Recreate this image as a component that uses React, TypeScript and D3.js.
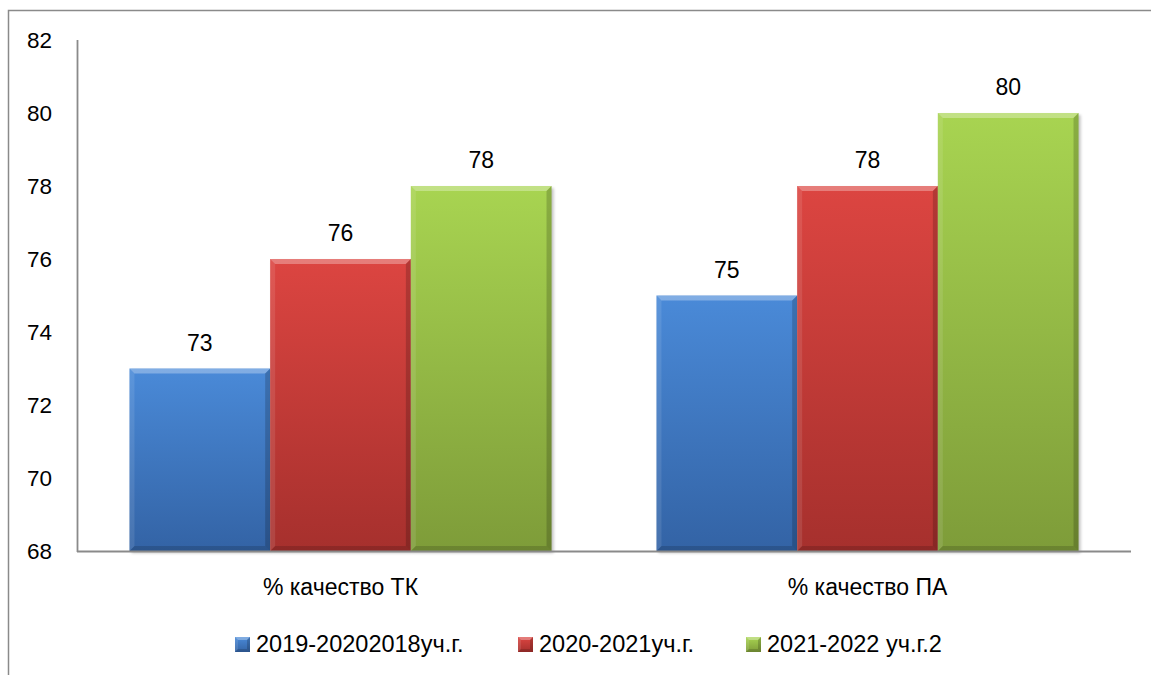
import React from "react";
import * as d3 from "d3";

const categories = ["% качество ТК", "% качество ПА"];
const seriesNames = ["2019-20202018уч.г.", "2020-2021уч.г.", "2021-2022 уч.г.2"];
const series1 = [73, 75];
const series2 = [76, 78];
const series3 = [78, 80];
const yTicks = [68, 70, 72, 74, 76, 78, 80, 82];
const seriesColors = [
  { top: "#4a8ad8", bottom: "#3363a5", id: "gBlue" },
  { top: "#dc4541", bottom: "#a6302d", id: "gRed" },
  { top: "#a8d451", bottom: "#7e9c39", id: "gGreen" },
];

const W = 1151;
const H = 675;
const FONT = "'Liberation Sans', Arial, sans-serif";

function Bar({ x, y, w, h, fill, b0 = 5, shadow = true }: { x: number; y: number; w: number; h: number; fill: string; b0?: number; shadow?: boolean }) {
  const b = Math.min(b0, h / 2);
  const pts = (arr: number[][]) => arr.map((p) => p.join(",")).join(" ");
  return (
    <g>
      {shadow && <rect x={x + 2} y={y + 2} width={w} height={h} fill="#000" opacity={0.25} filter="url(#shadow)" />}
      <rect x={x} y={y} width={w} height={h} fill={`url(#${fill})`} />
      <polygon points={pts([[x, y], [x + w, y], [x + w - b, y + b], [x + b, y + b]])} fill="#fff" opacity={0.3} />
      <polygon points={pts([[x, y], [x + b, y + b], [x + b, y + h - b], [x, y + h]])} fill="#fff" opacity={0.1} />
      <polygon points={pts([[x + w, y], [x + w, y + h], [x + w - b, y + h - b], [x + w - b, y + b]])} fill="#000" opacity={0.18} />
      <polygon points={pts([[x, y + h], [x + w, y + h], [x + w - b, y + h - b], [x + b, y + h - b]])} fill="#000" opacity={0.15} />
    </g>
  );
}

export default function App() {
  const values = [series1, series2, series3];
  const y = d3.scaleLinear().domain([68, 82]).range([551, 40]);
  const x0 = d3.scaleBand<string>().domain(categories).range([77, 1131]).padding(0);
  const x1 = d3
    .scaleBand<string>()
    .domain(seriesNames)
    .range([0, x0.bandwidth()])
    .paddingInner(0)
    .paddingOuter(0.373);

  const legendX = [235, 518, 746];

  return (
    <svg width={W} height={H} style={{ position: "absolute", left: 0, top: 0, background: "#fff" }}>
      <defs>
        {seriesColors.map((c) => (
          <linearGradient key={c.id} id={c.id} x1="0" y1="0" x2="0" y2="1">
            <stop offset="0%" stopColor={c.top} />
            <stop offset="100%" stopColor={c.bottom} />
          </linearGradient>
        ))}
        <filter id="shadow" x="-10%" y="-10%" width="130%" height="130%">
          <feGaussianBlur stdDeviation="1.5" />
        </filter>
      </defs>
      <rect x={8.5} y={10.5} width={1200} height={700} fill="#fff" stroke="#8a8a8a" strokeWidth={1.5} />

      {yTicks.map((t) => (
        <text key={t} x={52} y={y(t) + 8} textAnchor="end" fontFamily={FONT} fontSize={22.5} fill="#000">
          {t}
        </text>
      ))}

      {categories.map((cat, ci) =>
        seriesNames.map((s, si) => {
          const v = values[si][ci];
          const bx = (x0(cat) ?? 0) + (x1(s) ?? 0);
          const bw = x1.bandwidth();
          const by = y(v);
          return (
            <g key={cat + s}>
              <Bar x={bx} y={by} w={bw} h={y(68) - by} fill={seriesColors[si].id} />
              <text x={bx + bw / 2} y={by - 18} textAnchor="middle" fontFamily={FONT} fontSize={23} fill="#000">
                {v}
              </text>
            </g>
          );
        })
      )}

      <line x1={77.5} y1={40} x2={77.5} y2={552} stroke="#8a8a8a" strokeWidth={1.8} />
      <line x1={77} y1={551.5} x2={1131} y2={551.5} stroke="#8a8a8a" strokeWidth={1.8} />

      {categories.map((cat) => (
        <text
          key={cat}
          x={(x0(cat) ?? 0) + x0.bandwidth() / 2}
          y={595}
          textAnchor="middle"
          fontFamily={FONT}
          fontSize={23}
          fill="#000"
        >
          {cat}
        </text>
      ))}

      {seriesNames.map((s, i) => (
        <g key={s}>
          <Bar x={legendX[i]} y={637} w={15} h={15} fill={seriesColors[i].id} b0={3} shadow={false} />
          <text x={legendX[i] + 21} y={652} fontFamily={FONT} fontSize={23.5} fill="#000">
            {s}
          </text>
        </g>
      ))}
    </svg>
  );
}
